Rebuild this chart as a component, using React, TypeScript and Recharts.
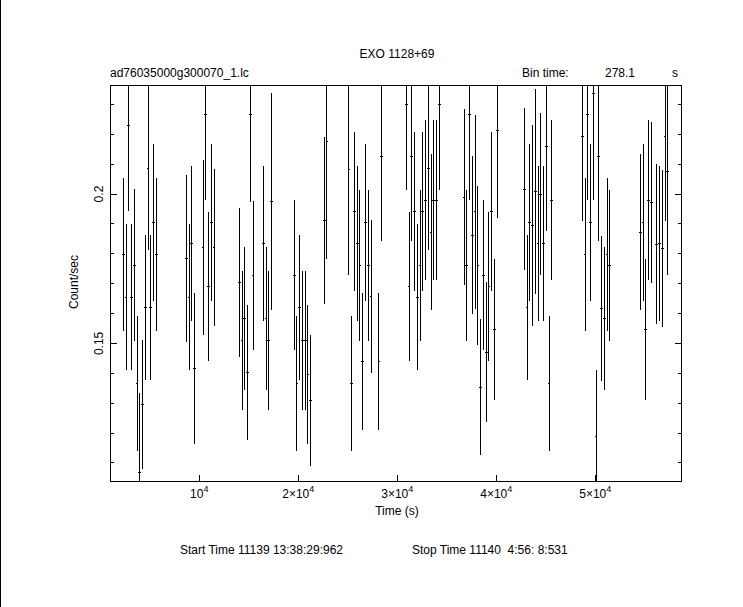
import { ScatterChart, Scatter, XAxis, YAxis, ErrorBar } from "recharts"

// light curve, 278.1 s bins
const times = [
  2327, 2605, 2883, 3161, 3439, 3717, 3995, 4273, 4551, 4829, 5107, 5385, 5663,
  8690, 8968, 9246, 9524,
  10380, 10658, 10936, 11214, 11492,
  14044, 14322, 14600, 14878, 15156, 15434,
  16468, 16746, 17024, 17302,
  19580, 19858, 20136, 20414, 20692, 20970, 21248,
  22620, 22898,
  25121, 25399, 25677, 25955, 26233, 26511, 26789, 27067, 27345,
  28150, 28428,
  30913, 31191, 31469, 31747, 32025, 32303, 32582, 32860, 33138, 33416, 33694, 33972, 34250,
  36750, 37028, 37306, 37584, 37862, 38141, 38419, 38697, 38975, 39253, 39531, 39809, 40087,
  42832, 43110, 43388, 43666, 43944, 44223, 44501, 44779, 45057, 45335, 45613,
  48690, 48968, 49246, 49524, 49802, 50081, 50359, 50637, 50915, 51193, 51471,
  54549, 54827, 55105, 55383, 55661, 56218, 56496, 56774, 57052, 57330,
]

const rates = [
  0.1798, 0.1655, 0.2231, 0.1655, 0.1762, 0.1366, 0.1068, 0.1296, 0.1621, 0.2086, 0.1621, 0.1905, 0.1798,
  0.1785, 0.1655, 0.1835, 0.1416,
  0.1821, 0.2267, 0.1691, 0.1905, 0.1821,
  0.1704, 0.151, 0.1584, 0.1403, 0.2265, 0.1728,
  0.1835, 0.1584, 0.151, 0.1975,
  0.1728, 0.1366, 0.1621, 0.151, 0.151, 0.1396, 0.131,
  0.1912, 0.2176,
  0.2083, 0.1366, 0.1942, 0.1835, 0.1761, 0.144, 0.1905, 0.1761, 0.1657,
  0.144, 0.2124,
  0.23, 0.1691, 0.2124, 0.1942, 0.1655, 0.1761, 0.1942, 0.1979, 0.2086, 0.1872, 0.1979, 0.1979, 0.23,
  0.1989, 0.1761, 0.2267, 0.1862, 0.194, 0.1761, 0.1353, 0.1728, 0.147, 0.1691, 0.1942, 0.1547, 0.2213,
  0.2016, 0.1621, 0.1905, 0.1895, 0.2009, 0.1835, 0.2, 0.1835, 0.216, 0.1366, 0.1979,
  0.2193, 0.1798, 0.2267, 0.1905, 0.2337, 0.1189, 0.2124, 0.1617, 0.1584, 0.1798, 0.1761,
  0.1872, 0.1905, 0.1547, 0.1979, 0.1972, 0.1832, 0.1835, 0.1818, 0.2193, 0.2076,
]

const errors = [
  0.0256, 0.0244, 0.0288, 0.0244, 0.0254, 0.0225, 0.0265, 0.0216, 0.0243, 0.0275, 0.0243, 0.0264, 0.0256,
  0.0279, 0.0244, 0.0259, 0.0252,
  0.0292, 0.0287, 0.0249, 0.0264, 0.0262,
  0.0248, 0.0234, 0.0239, 0.0226, 0.029, 0.025,
  0.0259, 0.0239, 0.0234, 0.0362,
  0.0251, 0.0225, 0.0243, 0.0234, 0.0234, 0.0232, 0.0219,
  0.028, 0.0393,
  0.0354, 0.0225, 0.0266, 0.0259, 0.0254, 0.0229, 0.0264, 0.0254, 0.0257,
  0.0229, 0.028,
  0.0287, 0.0249, 0.028, 0.0266, 0.0244, 0.0254, 0.0266, 0.0268, 0.0275, 0.0261, 0.0268, 0.0268, 0.0287,
  0.0295, 0.0254, 0.0287, 0.0264, 0.0324, 0.0266, 0.0228, 0.0251, 0.0234, 0.0249, 0.0266, 0.0236, 0.0292,
  0.0271, 0.0243, 0.0264, 0.0336, 0.0344, 0.0259, 0.0272, 0.0259, 0.0283, 0.0225, 0.0268,
  0.0283, 0.0256, 0.0287, 0.0264, 0.0357, 0.0222, 0.028, 0.0243, 0.0239, 0.0256, 0.0254,
  0.0261, 0.0264, 0.0236, 0.0268, 0.0269, 0.0268, 0.0259, 0.0262, 0.0283, 0.0347,
]

const binTime = 278.1

const majorX = [10000, 20000, 30000, 40000, 50000]
const minorX = [
  2000, 4000, 6000, 8000, 12000, 14000, 16000, 18000, 22000, 24000, 26000, 28000,
  32000, 34000, 36000, 38000, 42000, 44000, 46000, 48000, 52000, 54000, 56000, 58000,
]
const majorY = [0.15, 0.2]
const minorY = [0.11, 0.12, 0.13, 0.14, 0.16, 0.17, 0.18, 0.19, 0.21, 0.22, 0.23]

const xDomain = [980, 58760]
const yDomain = [0.1036, 0.2365]

const W = 743
const H = 607
const margin = { top: 85, right: 61, bottom: 125, left: 110 }
const font = "'Liberation Sans', Arial, sans-serif"
const thin = 0.001 // axes need a non-zero size to be drawn
const MAJOR = 7
const MINOR = 4

const data = times.map((t, i) => ({ t, rate: rates[i], err: errors[i], xerr: binTime / 2 }))

// tick renderers draw the inward tick line themselves
const bottomTick = (len: number, label: boolean) => ({ x, y, payload }: any) => {
  const m = Math.round(payload.value / 10000)
  return (
    <g>
      <line x1={x} x2={x} y1={y} y2={y - len} stroke="#000" />
      {label && (
        <text x={x} y={y + 16} textAnchor="middle" fontSize={12} fontFamily={font} fill="#000">
          {m === 1 ? "10" : `${m}×10`}
          <tspan dy={-6} fontSize={9}>4</tspan>
        </text>
      )}
    </g>
  )
}

const topTick = (len: number) => ({ x, y }: any) => (
  <line x1={x} x2={x} y1={y} y2={y + len} stroke="#000" />
)

const leftTick = (len: number, label: boolean) => ({ x, y, payload }: any) => (
  <g>
    <line x1={x} x2={x + len} y1={y} y2={y} stroke="#000" />
    {label && (
      <text
        x={x - 7}
        y={y}
        transform={`rotate(-90 ${x - 7} ${y})`}
        textAnchor="middle"
        fontSize={12}
        fontFamily={font}
        fill="#000"
      >
        {String(payload.value)}
      </text>
    )}
  </g>
)

const rightTick = (len: number) => ({ x, y }: any) => (
  <line x1={x} x2={x - len} y1={y} y2={y} stroke="#000" />
)

const axisCommon = {
  type: "number" as const,
  allowDataOverflow: true,
  interval: 0 as const,
  tickSize: 0,
  tickMargin: 0,
  tickLine: false,
}

function AxesChart() {
  return (
    <ScatterChart width={W} height={H} margin={margin}>
      <XAxis {...axisCommon} xAxisId="b" dataKey="t" orientation="bottom" domain={xDomain} ticks={majorX}
        height={thin} tick={bottomTick(MAJOR, true)} axisLine={{ stroke: "#000" }} />
      <XAxis {...axisCommon} xAxisId="bm" orientation="bottom" domain={xDomain} ticks={minorX}
        height={thin} tick={bottomTick(MINOR, false)} axisLine={false} />
      <XAxis {...axisCommon} xAxisId="t" orientation="top" domain={xDomain} ticks={majorX}
        height={thin} tick={topTick(MAJOR)} axisLine={{ stroke: "#000" }} />
      <XAxis {...axisCommon} xAxisId="tm" orientation="top" domain={xDomain} ticks={minorX}
        height={thin} tick={topTick(MINOR)} axisLine={false} />
      <YAxis {...axisCommon} yAxisId="l" dataKey="rate" orientation="left" domain={yDomain} ticks={majorY}
        width={thin} tick={leftTick(MAJOR, true)} axisLine={{ stroke: "#000" }} />
      <YAxis {...axisCommon} yAxisId="lm" orientation="left" domain={yDomain} ticks={minorY}
        width={thin} tick={leftTick(MINOR, false)} axisLine={false} />
      <YAxis {...axisCommon} yAxisId="r" orientation="right" domain={yDomain} ticks={majorY}
        width={thin} tick={rightTick(MAJOR)} axisLine={{ stroke: "#000" }} />
      <YAxis {...axisCommon} yAxisId="rm" orientation="right" domain={yDomain} ticks={minorY}
        width={thin} tick={rightTick(MINOR)} axisLine={false} />
      <Scatter data={data} xAxisId="b" yAxisId="l" isAnimationActive={false} shape={() => <g />} />
    </ScatterChart>
  )
}

function DataChart() {
  return (
    <ScatterChart width={W} height={H} margin={margin}>
      <XAxis xAxisId="b" dataKey="t" type="number" domain={xDomain} allowDataOverflow hide />
      <YAxis yAxisId="l" dataKey="rate" type="number" domain={yDomain} allowDataOverflow hide />
      <Scatter data={data} xAxisId="b" yAxisId="l" isAnimationActive={false} shape={() => <g />}>
        <ErrorBar dataKey="err" direction="y" width={0} stroke="#000" strokeWidth={1} isAnimationActive={false} />
        <ErrorBar dataKey="xerr" direction="x" width={0} stroke="#000" strokeWidth={1} isAnimationActive={false} />
      </Scatter>
    </ScatterChart>
  )
}

export default function App() {
  const plotW = W - margin.left - margin.right
  const plotH = H - margin.top - margin.bottom
  return (
    <div
      style={{
        position: "absolute",
        left: 0,
        top: 0,
        width: W,
        height: H,
        background: "#fff",
        shapeRendering: "crispEdges",
      }}
    >
      <div style={{ position: "absolute", left: 0, top: 0, width: 1, height: H, background: "#000" }} />
      {/* error bars are cut at the frame, like the original plot */}
      <div
        style={{
          position: "absolute",
          left: margin.left,
          top: margin.top,
          width: plotW,
          height: plotH,
          overflow: "hidden",
        }}
      >
        <div style={{ position: "absolute", left: -margin.left, top: -margin.top }}>
          <DataChart />
        </div>
      </div>
      <div style={{ position: "absolute", left: 0, top: 0 }}>
        <AxesChart />
      </div>
      <svg
        width={W}
        height={H}
        style={{ position: "absolute", left: 0, top: 0, pointerEvents: "none" }}
        fontFamily={font}
        fontSize={12}
        fill="#000"
      >
        <text x={397} y={58} textAnchor="middle">EXO 1128+69</text>
        <text x={110} y={77}>ad76035000g300070_1.lc</text>
        <text x={522} y={77}>Bin time:</text>
        <text x={605} y={77}>278.1</text>
        <text x={672} y={77}>s</text>
        <text x={397} y={515} textAnchor="middle">Time (s)</text>
        <text x={180} y={554}>Start Time 11139 13:38:29:962</text>
        <text x={412} y={554} style={{ whiteSpace: "pre" }}>Stop Time 11140  4:56: 8:531</text>
        <text x={78} y={282} transform="rotate(-90 78 282)" textAnchor="middle">Count/sec</text>
      </svg>
    </div>
  )
}
